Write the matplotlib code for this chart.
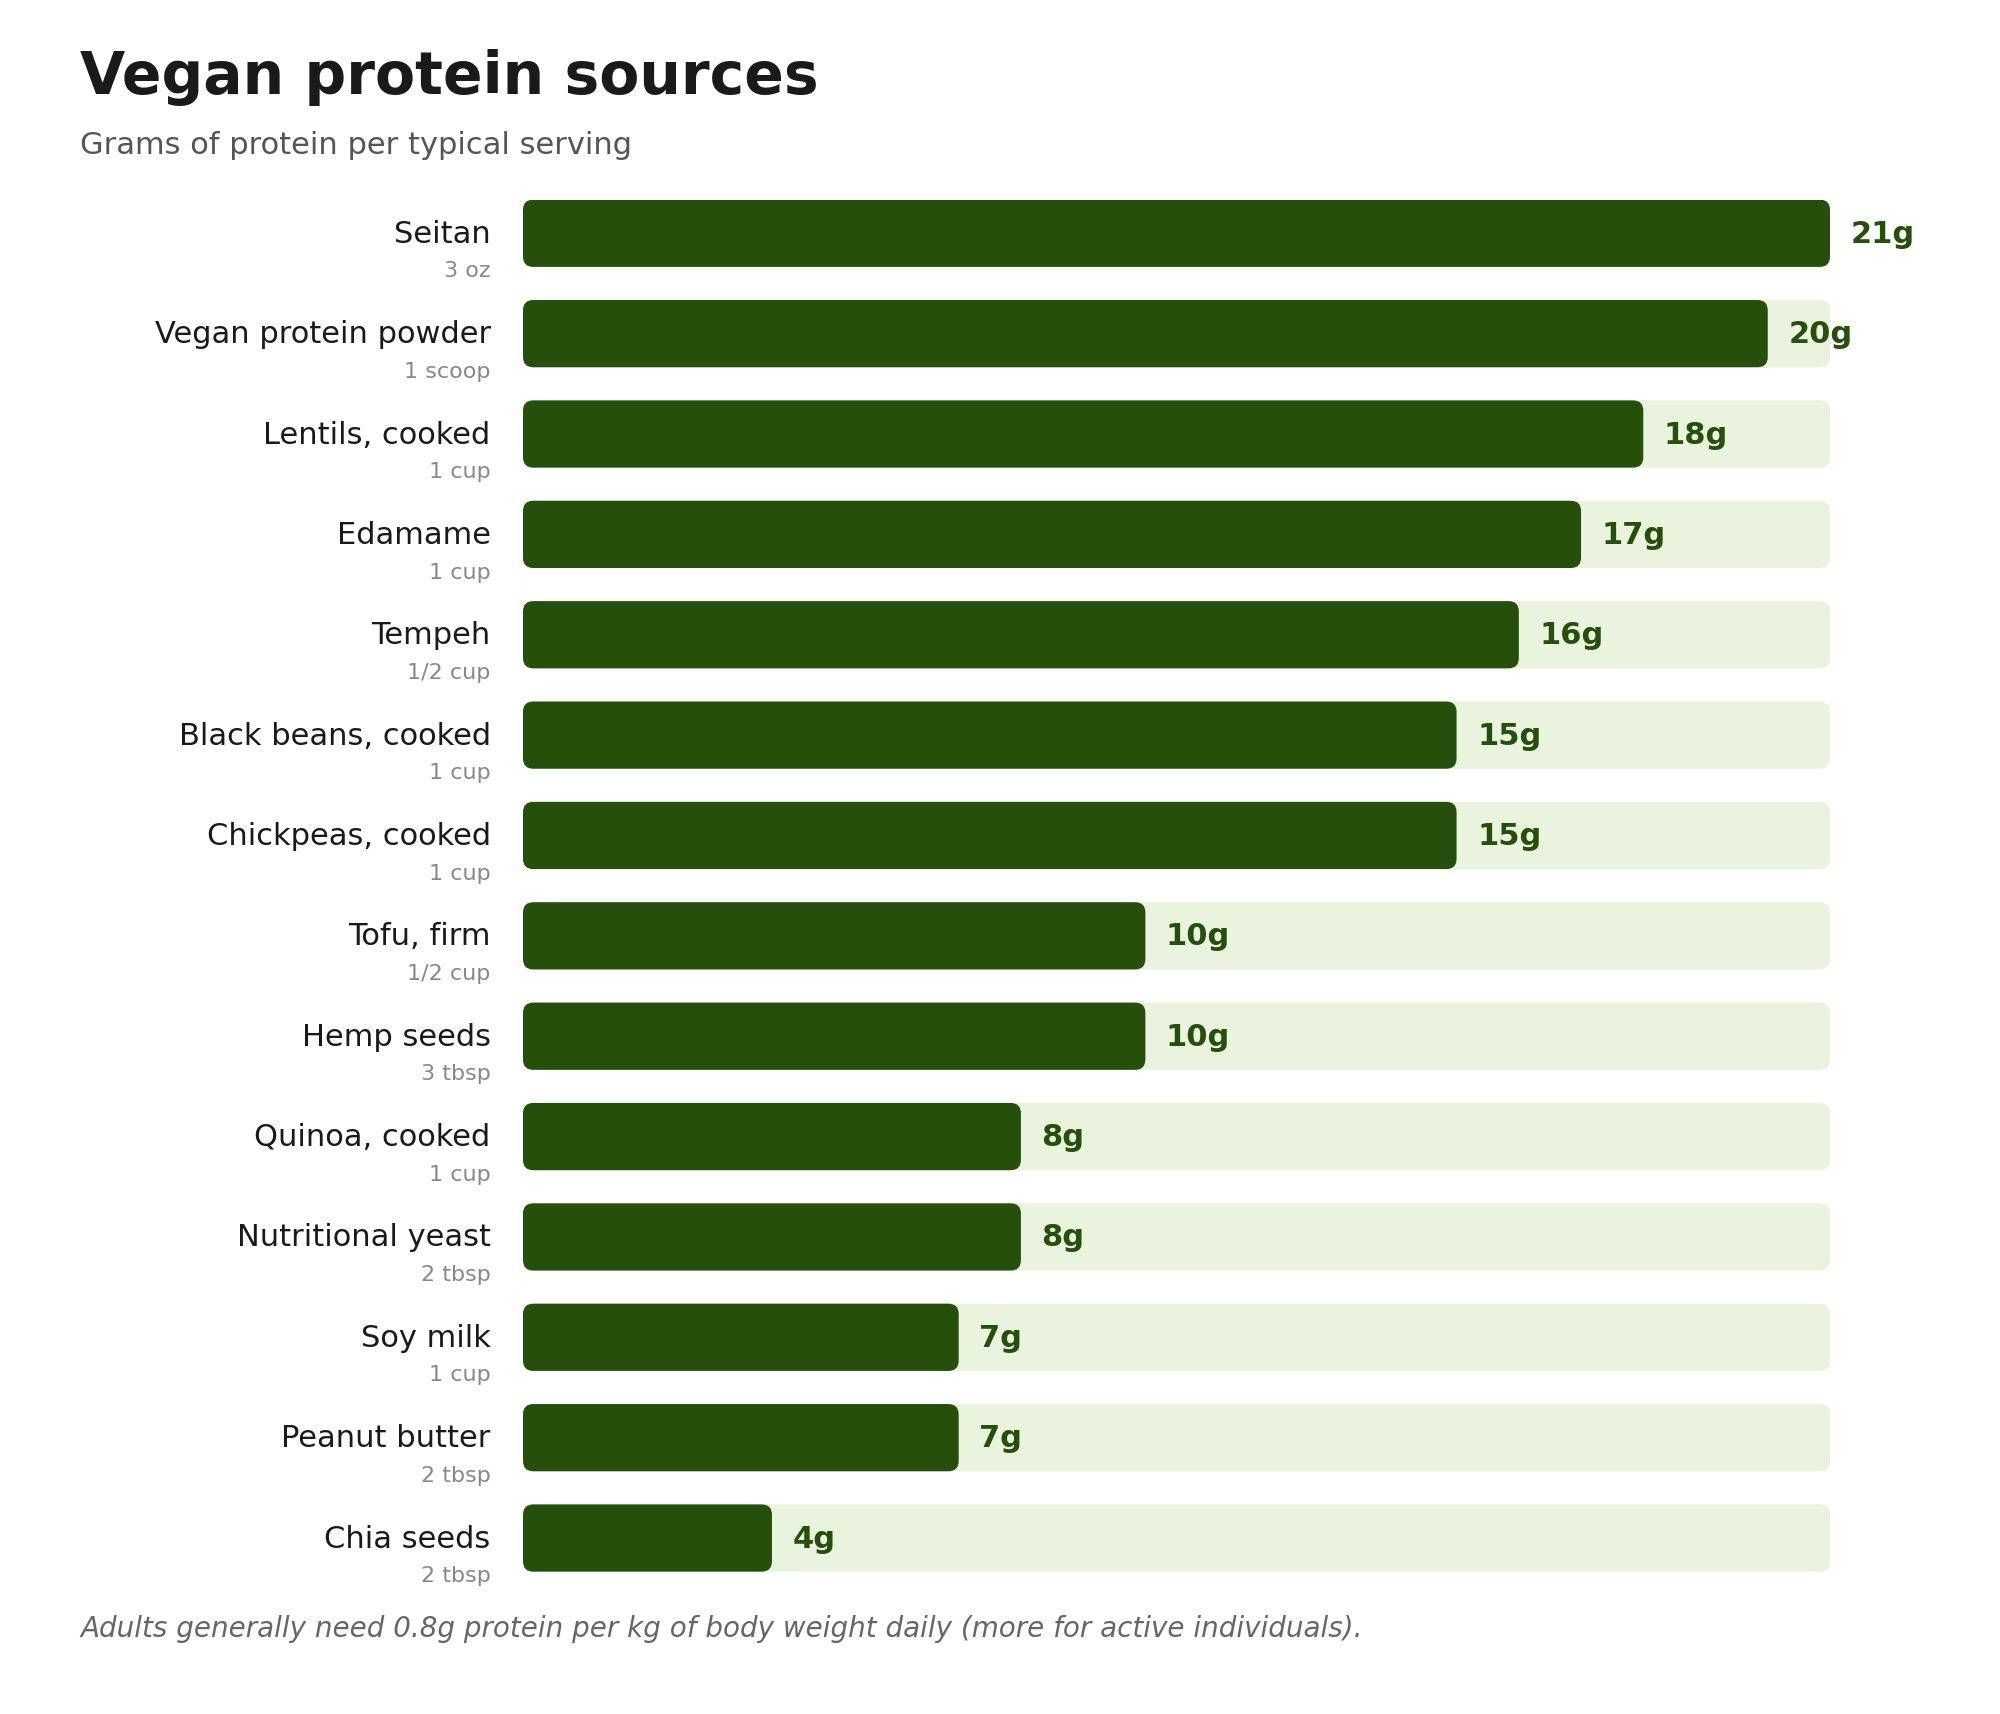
import matplotlib
matplotlib.use("Agg")
import matplotlib.pyplot as plt
from matplotlib.patches import FancyBboxPatch

# ── Data ──────────────────────────────────────────────────────────────────────
foods = ["Seitan", "Vegan protein powder", "Lentils, cooked", "Edamame", "Tempeh",
         "Black beans, cooked", "Chickpeas, cooked", "Tofu, firm", "Hemp seeds",
         "Quinoa, cooked", "Nutritional yeast", "Soy milk", "Peanut butter", "Chia seeds"]
servings = ["3 oz", "1 scoop", "1 cup", "1 cup", "1/2 cup", "1 cup", "1 cup",
            "1/2 cup", "3 tbsp", "1 cup", "2 tbsp", "1 cup", "2 tbsp", "2 tbsp"]
protein = [21, 20, 18, 17, 16, 15, 15, 10, 10, 8, 8, 7, 7, 4]

DARK = "#264f0b"
LIGHT = "#eaf3dd"
MAXV = 21

fig = plt.figure(figsize=(10, 8.575), dpi=200, facecolor="white")
ax = fig.add_axes([0.2615, 0.083, 0.915 - 0.2615, 0.8])
ax.set_xlim(0, MAXV)
H = 0.67
ax.set_ylim(len(foods) - 1 + H / 2, -H / 2)
ax.axis("off")

aspect = 0.62
for i, (name, serv, v) in enumerate(zip(foods, servings, protein)):
    ax.add_patch(FancyBboxPatch((0, i - H / 2), MAXV, H,
                                boxstyle="round,pad=0,rounding_size=0.165",
                                mutation_aspect=aspect, fc=LIGHT, ec="none"))
    ax.add_patch(FancyBboxPatch((0, i - H / 2), v, H,
                                boxstyle="round,pad=0,rounding_size=0.165",
                                mutation_aspect=aspect, fc=DARK, ec="none"))
    ax.text(v + 0.33, i, f"{v}g", color=DARK, fontsize=11, fontweight="bold",
            va="center", ha="left")
    ax.text(-0.52, i, name, color="#1a1a1a", fontsize=11, va="center", ha="right")
    ax.text(-0.52, i + 0.37, serv, color="#888888", fontsize=8, va="center", ha="right")

fig.text(0.04, 0.955, "Vegan protein sources", fontsize=21, fontweight="bold",
         color="#1a1a1a", va="center")
fig.text(0.04, 0.915, "Grams of protein per typical serving", fontsize=11,
         color="#555555", va="center")
fig.text(0.04, 0.05, "Adults generally need 0.8g protein per kg of body weight daily "
         "(more for active individuals).", fontsize=10, fontstyle="italic",
         color="#666666", va="center")

fig.savefig("out.png", dpi=200, facecolor="white")
